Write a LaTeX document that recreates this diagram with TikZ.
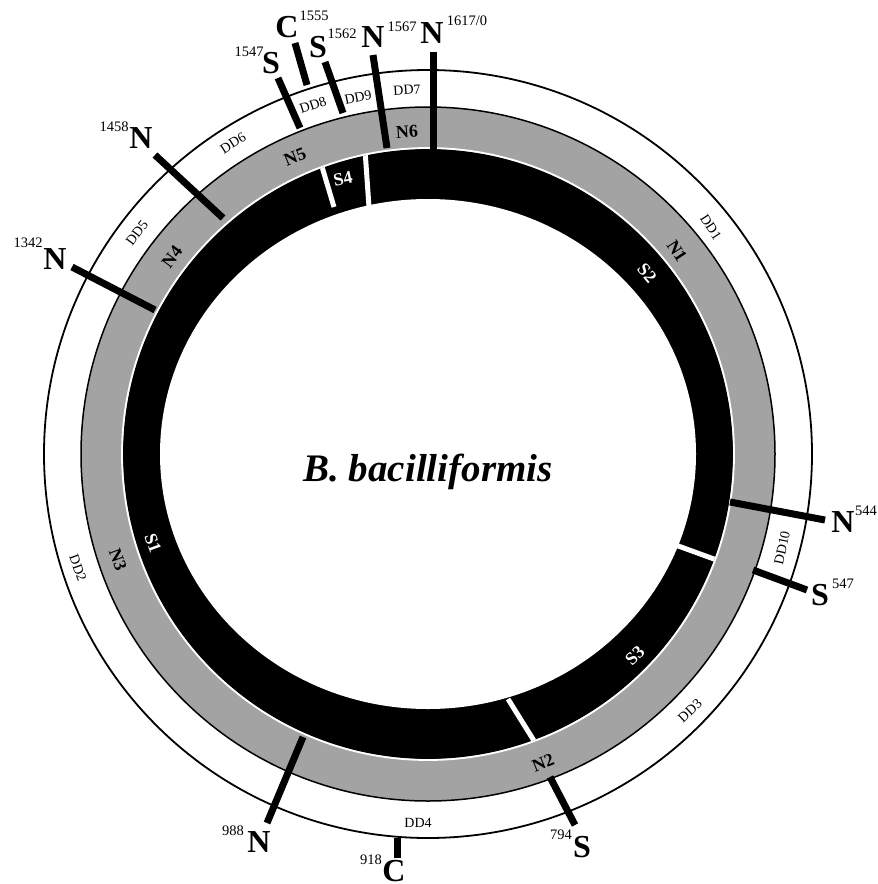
\documentclass[tikz,border=0pt]{standalone}
\usepackage{fontspec}
\setmainfont{Liberation Serif}
\definecolor{halftone}{gray}{0.64}
\begin{document}
\begin{tikzpicture}[x=1pt,y=-1pt,
  spoke/.style={line width=7pt, line cap=butt},
  gapline/.style={white, line width=5pt},
  site/.style={inner sep=0pt, font=\fontsize{32}{32}\selectfont\bfseries},
  num/.style={inner sep=0pt, font=\fontsize{14.5}{14.5}\selectfont},
  ddlab/.style={inner sep=0pt, font=\fontsize{14}{14}\selectfont},
  nlab/.style={inner sep=0pt, font=\fontsize{18}{18}\selectfont\bfseries},
  slab/.style={nlab, text=white},
]
\useasboundingbox (0,0) rectangle (878,884);
\coordinate (c) at (428,454);
% rings
\draw[line width=1.8pt, fill=white] (c) circle[radius=384pt];
\draw[line width=1.5pt, fill=halftone] (c) circle[radius=347pt];
\fill[black] (c) circle[radius=305pt];
\fill[white] (c) ellipse[x radius=268pt, y radius=255pt];
% gaps in the black ring
\coordinate (g1a) at (320,160); \coordinate (g1b) at (334,207);
\coordinate (g2a) at (365,150); \coordinate (g2b) at (369,207);
\coordinate (g3a) at (670,543); \coordinate (g3b) at (725,563);
\coordinate (g4a) at (508,699); \coordinate (g4b) at (541,752);
\begin{scope}
  \clip (c) circle[radius=305pt];
  \draw[gapline] (g1a) -- (g1b);
  \draw[gapline] (g2a) -- (g2b);
  \draw[gapline] (g3a) -- (g3b);
  \draw[gapline] (g4a) -- (g4b);
\end{scope}
\draw[white, line width=1.8pt] (c) circle[radius=306pt];
% spokes
\coordinate (s1a) at (433,52);  \coordinate (s1b) at (433,150);
\coordinate (s2a) at (373,55);  \coordinate (s2b) at (387,148);
\coordinate (s3a) at (325,62);  \coordinate (s3b) at (343,113);
\coordinate (s4a) at (295,43);  \coordinate (s4b) at (307,85);
\coordinate (s5a) at (278,78);  \coordinate (s5b) at (300,128);
\coordinate (s6a) at (155,155); \coordinate (s6b) at (223,218);
\coordinate (s7a) at (72,267);  \coordinate (s7b) at (155,310);
\coordinate (s8a) at (267,823); \coordinate (s8b) at (303,737);
\coordinate (s9a) at (397,858); \coordinate (s9b) at (397,838);
\coordinate (s10a) at (575,825); \coordinate (s10b) at (550,777);
\coordinate (s11a) at (807,590); \coordinate (s11b) at (753,570);
\coordinate (s12a) at (825,520); \coordinate (s12b) at (730,502);
\foreach \i in {1,...,12} {\draw[spoke] (s\i a) -- (s\i b);}
% site labels
\node[site] (L1) at (432,33) {N};   \node[num] (P1) at (467,21) {1617/0};
\node[site] (L2) at (373,37) {N};   \node[num] (P2) at (402,27) {1567};
\node[site] (L3) at (318,47) {S};   \node[num] (P3) at (342,34) {1562};
\node[site] (L4) at (287,27) {C};   \node[num] (P4) at (314,16) {1555};
\node[site] (L5) at (271,63) {S};   \node[num] (P5) at (249,52) {1547};
\node[site] (L6) at (141,138) {N};  \node[num] (P6) at (114,127) {1458};
\node[site] (L7) at (55,259) {N};   \node[num] (P7) at (28,243) {1342};
\node[site] (L8) at (259,842) {N};  \node[num] (P8) at (233,831) {988};
\node[site] (L9) at (394,871) {C};  \node[num] (P9) at (371,860) {918};
\node[site] (L10) at (582,847) {S}; \node[num] (P10) at (561,835) {794};
\node[site] (L11) at (820,595) {S}; \node[num] (P11) at (843,584) {547};
\node[site] (L12) at (843,522) {N}; \node[num] (P12) at (866,511) {544};
% DD labels
\node[ddlab, rotate=4]   (DD7) at (407,90) {DD7};
\node[ddlab, rotate=11]  (DD9) at (358,97) {DD9};
\node[ddlab, rotate=18]  (DD8) at (313,105) {DD8};
\node[ddlab, rotate=32]  (DD6) at (233,143) {DD6};
\node[ddlab, rotate=53]  (DD5) at (137,233) {DD5};
\node[ddlab, rotate=-70] (DD2) at (78,568) {DD2};
\node[ddlab]             (DD4) at (418,823) {DD4};
\node[ddlab, rotate=43]  (DD3) at (690,711) {DD3};
\node[ddlab, rotate=78]  (DD10) at (782,548) {DD10};
\node[ddlab, rotate=-57] (DD1) at (711,227) {DD1};
% N segment labels
\node[nlab, rotate=4]   (N6) at (407,132) {N6};
\node[nlab, rotate=22]  (N5) at (295,157) {N5};
\node[nlab, rotate=53]  (N4) at (172,257) {N4};
\node[nlab, rotate=-70] (N3) at (118,560) {N3};
\node[nlab, rotate=22]  (N2) at (543,763) {N2};
\node[nlab, rotate=-57] (N1) at (677,251) {N1};
% S segment labels
\node[slab, rotate=12]  (S4) at (343,179) {S4};
\node[slab, rotate=-70] (S1) at (153,543) {S1};
\node[slab, rotate=44]  (S3) at (635,656) {S3};
\node[slab, rotate=-50] (S2) at (647,273) {S2};
% title
\node[anchor=base, inner sep=0pt, font=\fontsize{39}{39}\selectfont\bfseries\itshape] (T) at (428,481) {B. bacilliformis};
\end{tikzpicture}
\end{document}
